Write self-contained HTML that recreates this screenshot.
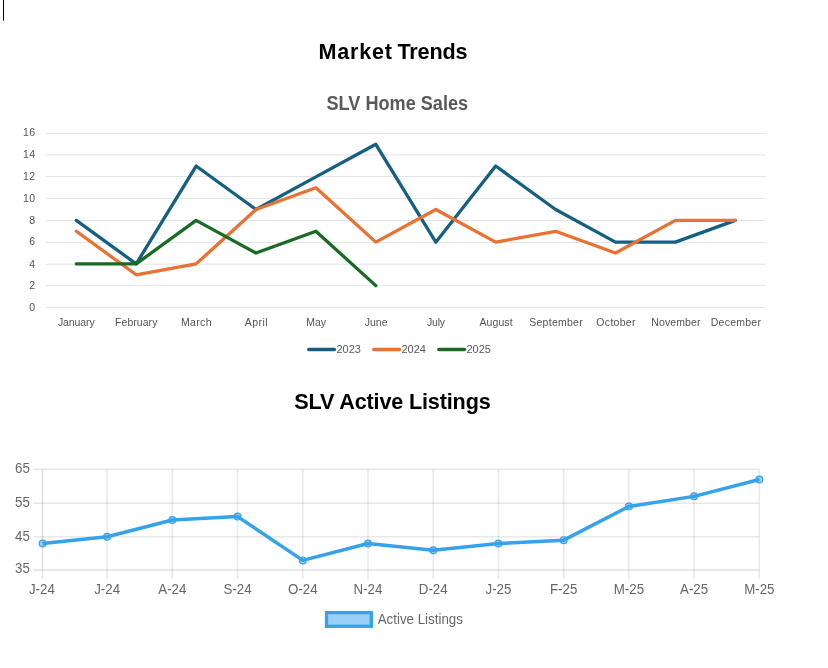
<!DOCTYPE html>
<html lang="en">
<head>
<meta charset="utf-8">
<title>Market Trends</title>
<style>
html,body{margin:0;padding:0;background:#fff;}
body{width:828px;height:668px;overflow:hidden;position:relative;font-family:"Liberation Sans",sans-serif;}
svg{position:absolute;left:0;top:0;display:block;}
text{font-family:"Liberation Sans",sans-serif;}
.h{font-weight:bold;font-size:21.6px;fill:#000;}
.ct{font-weight:bold;font-size:20px;fill:#595959;}
.ax{font-size:10.5px;fill:#545454;}
.lg{font-size:11px;fill:#595959;}
.cj{font-size:13.3px;fill:#666;}
</style>
</head>
<body>
<svg width="828" height="668" viewBox="0 0 828 668">
<rect x="3" y="0" width="1" height="20.8" fill="#000"/>
<text class="h" y="58.6"><tspan x="318.5" textLength="73.5" lengthAdjust="spacing">Market</tspan> <tspan x="397.5" textLength="70" lengthAdjust="spacing">Trends</tspan></text>
<text class="ct" x="397.3" y="110.3" text-anchor="middle" textLength="141.5" lengthAdjust="spacingAndGlyphs">SLV Home Sales</text>

<g stroke="#d9d9d9" stroke-width="0.75">
<line x1="46" x2="765.7" y1="307.40" y2="307.40"/>
<line x1="46" x2="765.7" y1="285.70" y2="285.70"/>
<line x1="46" x2="765.7" y1="264.20" y2="264.20"/>
<line x1="46" x2="765.7" y1="242.40" y2="242.40"/>
<line x1="46" x2="765.7" y1="220.50" y2="220.50"/>
<line x1="46" x2="765.7" y1="198.45" y2="198.45"/>
<line x1="46" x2="765.7" y1="176.50" y2="176.50"/>
<line x1="46" x2="765.7" y1="154.90" y2="154.90"/>
<line x1="46" x2="765.7" y1="133.40" y2="133.40"/>
</g>
<g class="ax" text-anchor="end">
<text x="35.2" y="311" letter-spacing="0">0</text>
<text x="35.2" y="289" letter-spacing="0">2</text>
<text x="35.2" y="268" letter-spacing="0">4</text>
<text x="35.2" y="245" letter-spacing="0">6</text>
<text x="35.2" y="224" letter-spacing="0">8</text>
<text x="35.800000000000004" y="202" letter-spacing="0.6">10</text>
<text x="35.800000000000004" y="180" letter-spacing="0.6">12</text>
<text x="35.800000000000004" y="158" letter-spacing="0.6">14</text>
<text x="35.800000000000004" y="136" letter-spacing="0.6">16</text>
</g>
<g class="ax" text-anchor="middle">
<text x="76.25" y="326.2" letter-spacing="-0.100">January</text>
<text x="136.28" y="326.2" letter-spacing="0.043">February</text>
<text x="196.41" y="326.2" letter-spacing="0.375">March</text>
<text x="256.38" y="326.2" letter-spacing="0.400">April</text>
<text x="316.14" y="326.2" letter-spacing="0.000">May</text>
<text x="376.10" y="326.2" letter-spacing="0.000">June</text>
<text x="435.96" y="326.2" letter-spacing="-0.200">July</text>
<text x="496.06" y="326.2" letter-spacing="0.080">August</text>
<text x="556.11" y="326.2" letter-spacing="0.263">September</text>
<text x="616.09" y="326.2" letter-spacing="0.300">October</text>
<text x="675.96" y="326.2" letter-spacing="0.129">November</text>
<text x="735.99" y="326.2" letter-spacing="0.257">December</text>
</g>
<g fill="none" stroke-width="3.3" stroke-linecap="round" stroke-linejoin="round">
<polyline stroke="#156082" points="76.3,220.40 136.2,263.90 196.1,166.02 256.0,209.52 315.9,176.90 375.8,144.27 435.8,242.15 495.7,166.02 555.6,209.52 615.5,242.15 675.4,242.15 735.3,220.40"/>
<polyline stroke="#e97132" points="76.3,231.27 136.2,274.77 196.1,263.90 256.0,209.52 315.9,187.77 375.8,242.15 435.8,209.52 495.7,242.15 555.6,231.27 615.5,253.02 675.4,220.40 735.3,220.40"/>
<polyline stroke="#196b24" points="76.3,263.90 136.2,263.90 196.1,220.40 256.0,253.02 315.9,231.27 375.8,285.65"/>
</g>
<g stroke-width="3.4" stroke-linecap="round">
<line x1="308.7" x2="334.4" y1="349.5" y2="349.5" stroke="#156082"/>
<line x1="373.8" x2="399.5" y1="349.5" y2="349.5" stroke="#e97132"/>
<line x1="438.8" x2="464.5" y1="349.5" y2="349.5" stroke="#196b24"/>
</g>
<g class="lg">
<text x="336.4" y="352.9">2023</text>
<text x="401.4" y="352.9">2024</text>
<text x="466.4" y="352.9">2025</text>
</g>
<text class="h" x="392.5" y="408.9" text-anchor="middle" textLength="196.4" lengthAdjust="spacing">SLV Active Listings</text>
<g id="cj">
<g stroke="#000" stroke-opacity="0.085" stroke-width="1.6">
<line x1="33.3" x2="759.3" y1="569.9" y2="569.9" stroke-width="2" stroke-opacity="0.09"/>
<line x1="33.3" x2="759.3" y1="536.80" y2="536.80"/>
<line x1="33.3" x2="759.3" y1="503.10" y2="503.10"/>
<line x1="33.3" x2="759.3" y1="469.40" y2="469.40"/>
<line x1="42.50" x2="42.50" y1="469.40" y2="578.90"/>
<line x1="107.12" x2="107.12" y1="469.40" y2="578.90"/>
<line x1="172.34" x2="172.34" y1="469.40" y2="578.90"/>
<line x1="237.56" x2="237.56" y1="469.40" y2="578.90"/>
<line x1="302.78" x2="302.78" y1="469.40" y2="578.90"/>
<line x1="368.00" x2="368.00" y1="469.40" y2="578.90"/>
<line x1="433.22" x2="433.22" y1="469.40" y2="578.90"/>
<line x1="498.44" x2="498.44" y1="469.40" y2="578.90"/>
<line x1="563.66" x2="563.66" y1="469.40" y2="578.90"/>
<line x1="628.88" x2="628.88" y1="469.40" y2="578.90"/>
<line x1="694.10" x2="694.10" y1="469.40" y2="578.90"/>
<line x1="759.32" x2="759.32" y1="469.40" y2="578.90"/>
</g>
<line x1="42.5" x2="42.5" y1="469.40" y2="570.50" stroke="#000" stroke-opacity="0.05" stroke-width="1.1"/>
<g class="cj" text-anchor="end">
<text transform="translate(29.8 573.4) scale(1 1.08)">35</text>
<text transform="translate(29.8 540.6) scale(1 1.08)">45</text>
<text transform="translate(29.8 506.8) scale(1 1.08)">55</text>
<text transform="translate(29.8 473.0) scale(1 1.08)">65</text>
</g>
<g class="cj" text-anchor="middle">
<text transform="translate(41.90 594.2) scale(1 1.08)">J-24</text>
<text transform="translate(107.12 594.2) scale(1 1.08)">J-24</text>
<text transform="translate(172.34 594.2) scale(1 1.08)">A-24</text>
<text transform="translate(237.56 594.2) scale(1 1.08)">S-24</text>
<text transform="translate(302.78 594.2) scale(1 1.08)">O-24</text>
<text transform="translate(368.00 594.2) scale(1 1.08)">N-24</text>
<text transform="translate(433.22 594.2) scale(1 1.08)">D-24</text>
<text transform="translate(498.44 594.2) scale(1 1.08)">J-25</text>
<text transform="translate(563.66 594.2) scale(1 1.08)">F-25</text>
<text transform="translate(628.88 594.2) scale(1 1.08)">M-25</text>
<text transform="translate(694.10 594.2) scale(1 1.08)">A-25</text>
<text transform="translate(759.32 594.2) scale(1 1.08)">M-25</text>
</g>
<polyline fill="none" stroke="#36a2eb" stroke-width="3.5" stroke-linejoin="round" stroke-linecap="butt" points="42.60,543.54 107.12,536.80 172.34,519.95 237.56,516.58 302.78,560.39 368.00,543.54 433.22,550.28 498.44,543.54 563.66,540.17 628.88,506.47 694.10,496.36 759.32,479.51"/>
<g fill="#36a2eb" fill-opacity="0.5" stroke="#36a2eb" stroke-width="1.2">
<circle cx="42.60" cy="543.54" r="3.4"/>
<circle cx="107.12" cy="536.80" r="3.4"/>
<circle cx="172.34" cy="519.95" r="3.4"/>
<circle cx="237.56" cy="516.58" r="3.4"/>
<circle cx="302.78" cy="560.39" r="3.4"/>
<circle cx="368.00" cy="543.54" r="3.4"/>
<circle cx="433.22" cy="550.28" r="3.4"/>
<circle cx="498.44" cy="543.54" r="3.4"/>
<circle cx="563.66" cy="540.17" r="3.4"/>
<circle cx="628.88" cy="506.47" r="3.4"/>
<circle cx="694.10" cy="496.36" r="3.4"/>
<circle cx="759.32" cy="479.51" r="3.4"/>
</g>
<rect x="326.5" y="612.6" width="44.8" height="13.7" fill="#9ad0f5" stroke="#36a2eb" stroke-width="3.3"/>
<text class="cj" transform="translate(377.7 623.5) scale(1 1.08)" textLength="85.2" lengthAdjust="spacing">Active Listings</text>
</g>
</svg>
</body>
</html>
